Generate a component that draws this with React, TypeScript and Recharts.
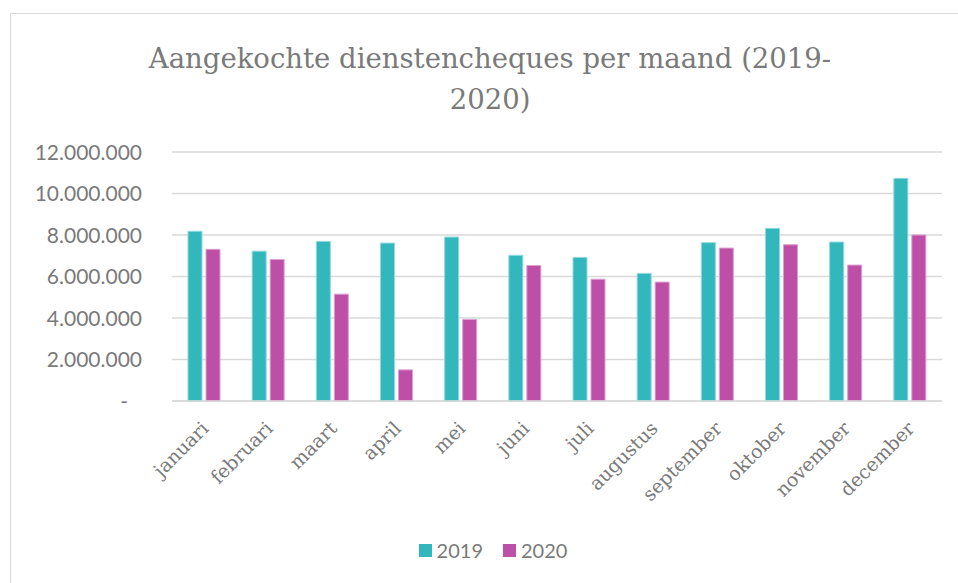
import React from "react";
import { Bar, BarChart, CartesianGrid, XAxis, YAxis } from "recharts";

const months = [
  "januari",
  "februari",
  "maart",
  "april",
  "mei",
  "juni",
  "juli",
  "augustus",
  "september",
  "oktober",
  "november",
  "december",
];

const values2019 = [
  8180000, 7220000, 7690000, 7610000, 7900000, 7020000, 6920000, 6150000,
  7630000, 8320000, 7660000, 10730000,
];

const values2020 = [
  7310000, 6820000, 5150000, 1500000, 3930000, 6530000, 5870000, 5730000,
  7370000, 7530000, 6550000, 8000000,
];

const yTicks = [0, 2000000, 4000000, 6000000, 8000000, 10000000, 12000000];

const chartData = months.map((month, i) => ({
  month,
  y2019: values2019[i],
  y2020: values2020[i],
}));

const TEXT = "#7a7a7a";
const TEAL = "#31b7bc";
const MAGENTA = "#bd50a6";

const formatDots = (v: number) =>
  String(v).replace(/\B(?=(\d{3})+(?!\d))/g, ".");

const YTick = (props: any) => {
  const { x, y, payload } = props;
  const zero = payload.value === 0;
  return (
    <text
      x={zero ? x - 14 : x}
      y={y}
      dy="0.36em"
      textAnchor="end"
      fill={TEXT}
      fontSize={21}
      fontFamily="Lato, 'Open Sans', sans-serif"
    >
      {zero ? "-" : formatDots(payload.value)}
    </text>
  );
};

const XTick = (props: any) => {
  const { x, y, payload } = props;
  const ax = x - 1;
  const ay = y + 14;
  return (
    <text
      x={ax}
      y={ay}
      transform={`rotate(-45, ${ax}, ${ay})`}
      textAnchor="end"
      fill={TEXT}
      fontSize={19}
      fontFamily="'DejaVu Serif', serif"
      dy="0.5em"
    >
      {payload.value}
    </text>
  );
};

const legendItems = [
  { label: "2019", color: TEAL },
  { label: "2020", color: MAGENTA },
];

export default function App() {
  return (
    <div
      style={{
        position: "absolute",
        left: 0,
        top: 0,
        width: 958,
        height: 583,
        overflow: "hidden",
        background: "#fff",
      }}
    >
      <div
        style={{
          position: "absolute",
          left: 10,
          top: 13,
          width: 980,
          height: 620,
          border: "1px solid #d9d9d9",
        }}
      />
      <div
        style={{
          position: "absolute",
          left: 110,
          width: 760,
          top: 38,
          textAlign: "center",
          fontFamily: "'DejaVu Serif', serif",
          fontSize: 27.5,
          lineHeight: "41px",
          color: TEXT,
        }}
      >
        Aangekochte dienstencheques per maand (2019-
        <br />
        2020)
      </div>
      <div style={{ position: "absolute", left: 0, top: 0 }}>
        <BarChart
          width={958}
          height={583}
          data={chartData}
          margin={{ top: 152, right: 16, left: 0, bottom: 92 }}
          barGap={4}
          barSize={14}
        >
          <CartesianGrid vertical={false} stroke="#d9d9d9" strokeWidth={1.5} />
          <XAxis
            dataKey="month"
            axisLine={{ stroke: "#d9d9d9", strokeWidth: 1.5 }}
            tickLine={false}
            interval={0}
            height={90}
            tick={<XTick />}
          />
          <YAxis
            width={172}
            domain={[0, 12000000]}
            ticks={yTicks}
            axisLine={false}
            tickLine={false}
            tickSize={0}
            tickMargin={30}
            tick={<YTick />}
          />
          <Bar
            dataKey="y2019"
            name="2019"
            fill={TEAL}
            stroke="#8fdadc"
            strokeWidth={1}
            isAnimationActive={false}
          />
          <Bar
            dataKey="y2020"
            name="2020"
            fill={MAGENTA}
            stroke="#dc9fcf"
            strokeWidth={1}
            isAnimationActive={false}
          />
        </BarChart>
      </div>
      <div
        style={{
          position: "absolute",
          top: 538,
          left: 0,
          width: 986,
          display: "flex",
          justifyContent: "center",
          gap: 20,
          fontFamily: "Lato, 'Open Sans', sans-serif",
          fontSize: 20,
          color: TEXT,
        }}
      >
        {legendItems.map((item) => (
          <div
            key={item.label}
            style={{ display: "flex", alignItems: "center", gap: 5 }}
          >
            <span
              style={{
                width: 13,
                height: 13,
                background: item.color,
                display: "inline-block",
              }}
            />
            <span>{item.label}</span>
          </div>
        ))}
      </div>
    </div>
  );
}
